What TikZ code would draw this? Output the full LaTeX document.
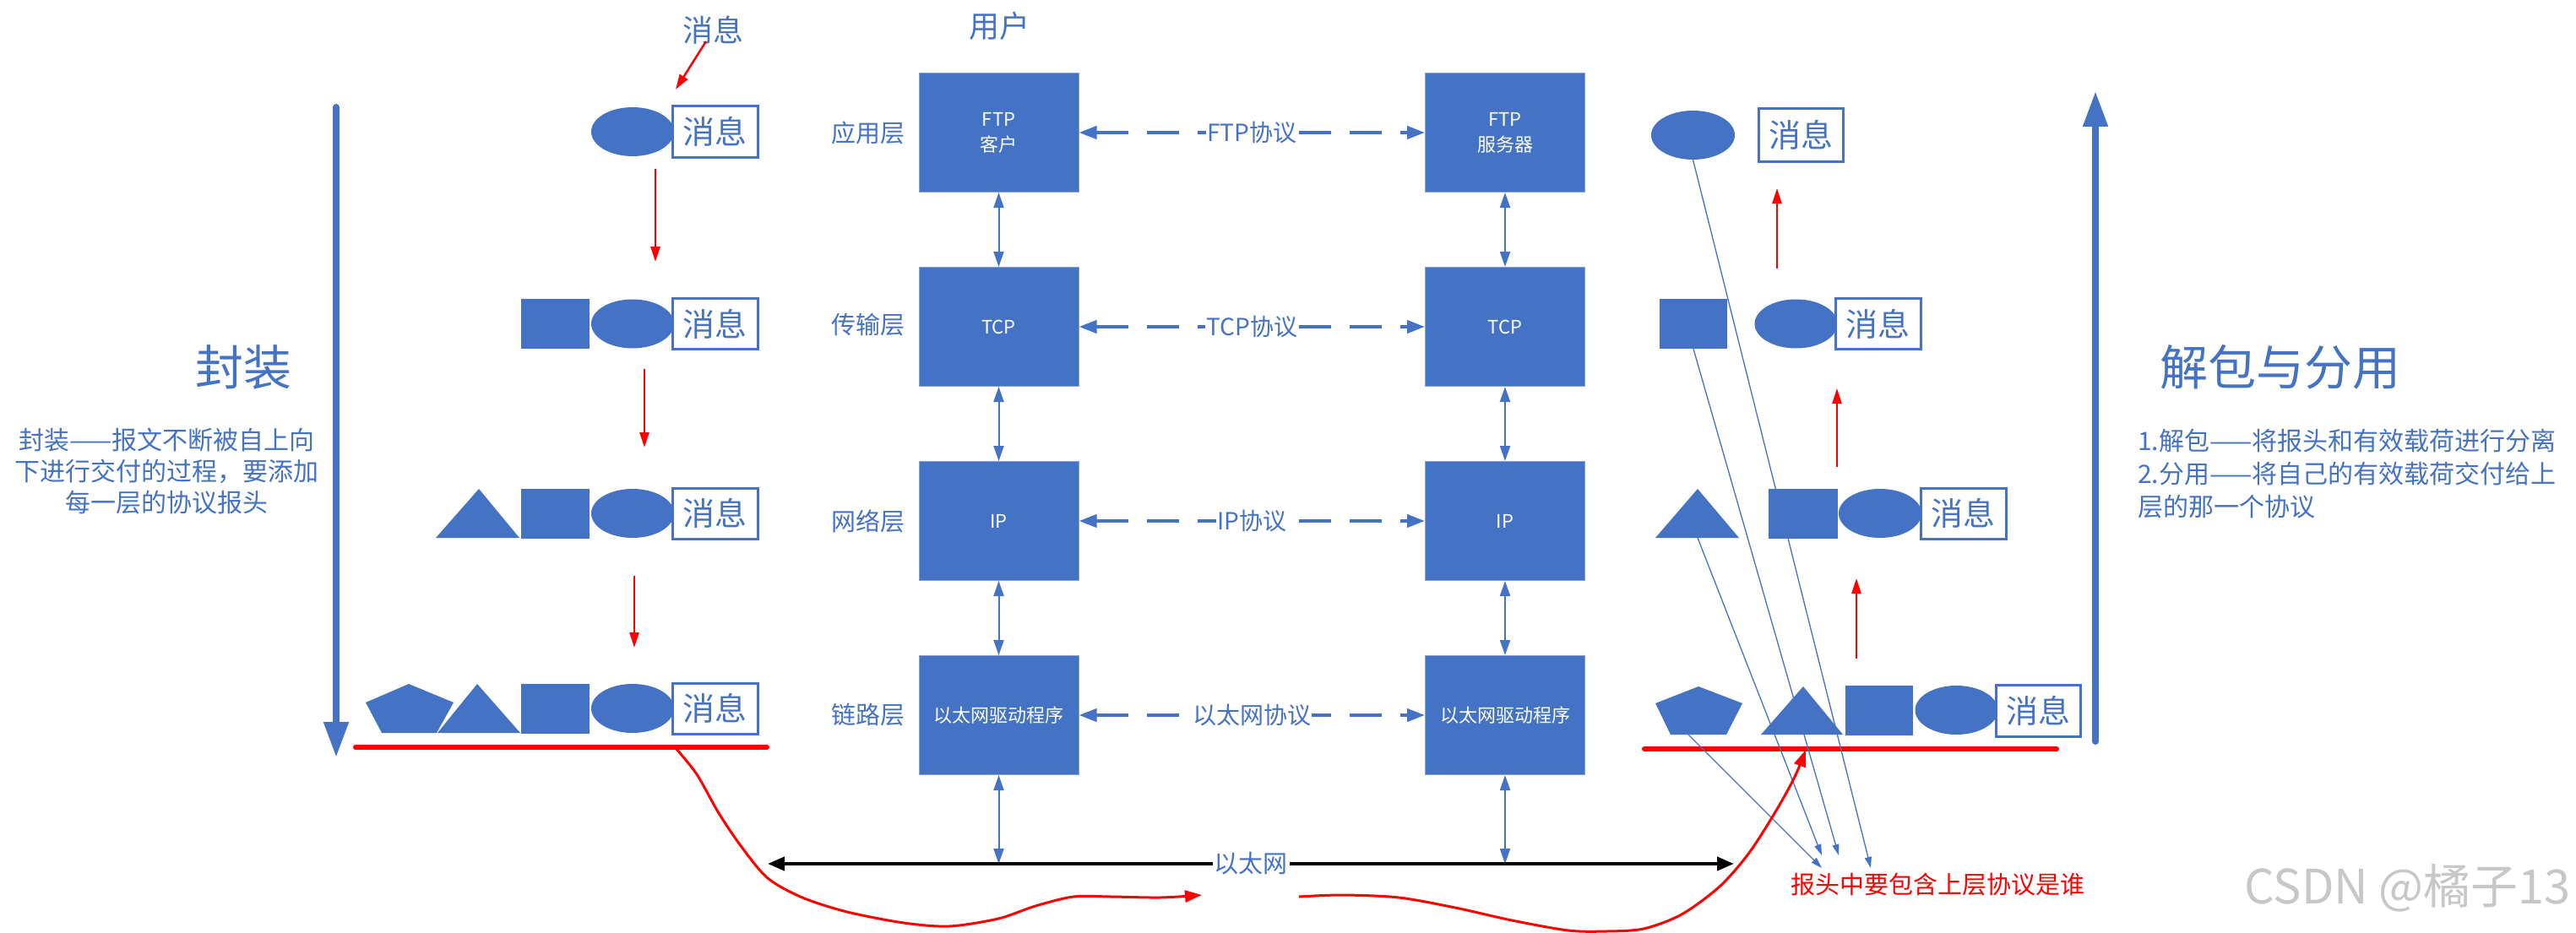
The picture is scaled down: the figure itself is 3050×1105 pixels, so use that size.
\documentclass[tikz,border=0pt]{standalone}
\usepackage{fontspec}
\setmainfont{Noto Sans CJK SC}
\usetikzlibrary{arrows.meta,shapes.geometric}
\definecolor{ob}{HTML}{4472C4}
\definecolor{rr}{HTML}{FF0000}
\newcommand{\fsz}[2]{\fontsize{#1}{#2}\selectfont}
\begin{document}
\begin{tikzpicture}[x=1pt,y=-1pt,
  lbox/.style={rectangle, fill=ob, draw=ob!65!white, line width=1pt, minimum width=189pt, minimum height=141pt, inner sep=0pt, text=white, font=\fsz{22}{30}, align=center},
  msg/.style={rectangle, draw=ob, line width=3pt, fill=white, minimum width=101pt, minimum height=60pt, inner sep=0pt, text=ob, font=\fsz{38}{40}},
  circ/.style={ellipse, fill=ob, minimum width=98pt, minimum height=58pt, inner sep=0pt},
  sqr/.style={rectangle, fill=ob, minimum width=81pt, minimum height=59pt, inner sep=0pt},
  lbl/.style={text=ob, font=\fsz{29}{34}, inner sep=0pt},
  proto/.style={text=ob, font=\fsz{28}{32}, fill=white, inner sep=1pt},
  dasharr/.style={draw=ob, line width=4pt, dash pattern=on 38pt off 22pt, {Triangle[length=21pt,width=15pt]}-{Triangle[length=21pt,width=15pt]}},
  varr/.style={draw=ob, line width=2pt, {Triangle[length=18pt,width=12pt]}-{Triangle[length=18pt,width=12pt]}},
  etharr/.style={draw=black, line width=4pt, {Triangle[length=20pt,width=16pt]}-{Triangle[length=20pt,width=16pt]}},
  bigarr/.style={draw=ob, line width=8pt, line cap=round, -{Triangle[length=42pt,width=28pt]}},
  thinarr/.style={draw=ob, line width=1.3pt, -{Triangle[length=13pt,width=8pt]}},
  rarr/.style={draw=rr, line width=2.5pt, -{Triangle[length=18pt,width=11pt]}},
  rline/.style={draw=rr, line width=6pt, line cap=round},
  rcurve/.style={draw=rr, line width=3pt},
  shp/.style={fill=ob}
]
\fill[white] (0,0) rectangle (3050,1105);
\useasboundingbox (0,0) rectangle (3050,1105);

% ---------- layer boxes ----------
\node[lbox] (c1) at (1182.5,157) {FTP\\客户};
\node[lbox] (s1) at (1782,157) {FTP\\服务器};
\node[lbox] (c2) at (1182.5,387) {TCP};
\node[lbox] (s2) at (1782,387) {TCP};
\node[lbox] (c3) at (1182.5,617) {IP};
\node[lbox] (s3) at (1782,617) {IP};
\node[lbox] (c4) at (1182.5,847) {以太网驱动程序};
\node[lbox] (s4) at (1782,847) {以太网驱动程序};

\node[lbl] (L1) at (1028,157) {应用层};
\node[lbl] (L2) at (1028,385) {传输层};
\node[lbl] (L3) at (1028,617) {网络层};
\node[lbl] (L4) at (1028,847) {链路层};
\node[text=ob, font=\fsz{36}{40}, inner sep=0pt] (user) at (1183,31) {用户};

\draw[dasharr] (c1.east) -- (s1.west) node[midway, proto] {FTP协议};
\draw[dasharr] (c2.east) -- (s2.west) node[midway, proto] {TCP协议};
\draw[dasharr] (c3.east) -- (s3.west) node[midway, proto] {IP协议};
\draw[dasharr] (c4.east) -- (s4.west) node[midway, proto] {以太网协议};

\draw[varr] (c1.south) -- (c2.north);
\draw[varr] (c2.south) -- (c3.north);
\draw[varr] (c3.south) -- (c4.north);
\draw[varr] (s1.south) -- (s2.north);
\draw[varr] (s2.south) -- (s3.north);
\draw[varr] (s3.south) -- (s4.north);

\coordinate (ethL) at (909,1023);
\coordinate (ethR) at (2053,1023);
\draw[varr] (c4.south) -- (c4.south |- ethL);
\draw[varr] (s4.south) -- (s4.south |- ethL);
\draw[etharr] (ethL) -- (ethR) node[pos=0.5, fill=white, text=ob, font=\fsz{29}{32}, inner sep=2pt] (eth) {以太网};

% ---------- left: encapsulation ----------
\draw[bigarr] (398,127) -- (398,897);
\node[text=ob, font=\fsz{57}{60}, inner sep=0pt] (enc) at (288,435) {封装};
\node[text=ob, font=\fsz{30}{37}, align=center, inner sep=0pt] (encd) at (197.5,558) {封装——报文不断被自上向\\下进行交付的过程，要添加\\每一层的协议报头};

\node[text=ob, font=\fsz{36}{40}, inner sep=0pt] (topmsg) at (844,36) {消息};

\node[circ] (a1c) at (749,156) {};
\node[msg] (a1m) at (846.5,156) {消息};

\node[sqr] (a2s) at (657.5,383.5) {};
\node[circ] (a2c) at (749,383.5) {};
\node[msg] (a2m) at (846.5,383.5) {消息};

\fill[shp] (516,637) -- (567,579) -- (615,637) -- cycle;
\node[sqr] (a3s) at (657.5,608) {};
\node[circ] (a3c) at (749,608) {};
\node[msg] (a3m) at (846.5,608) {消息};

\fill[shp] (484,810) -- (537,832) -- (517,868) -- (452,868) -- (433,832) -- cycle;
\fill[shp] (518,868) -- (565,810) -- (616,868) -- cycle;
\node[sqr] (a4s) at (657,839) {};
\node[circ] (a4c) at (749,839) {};
\node[msg] (a4m) at (846.5,839) {消息};

\coordinate (tA) at (800,106);
\draw[rarr] ([xshift=-8pt,yshift=4pt]topmsg.south) -- (tA);
\coordinate (d1a) at (776,200); \coordinate (d1b) at (776,310);
\coordinate (d2a) at (763,437); \coordinate (d2b) at (763,530);
\coordinate (d3a) at (751,682); \coordinate (d3b) at (751,767);
\draw[rarr] (d1a) -- (d1b);
\draw[rarr] (d2a) -- (d2b);
\draw[rarr] (d3a) -- (d3b);

\coordinate (rlL1) at (421,885); \coordinate (rlL2) at (908,885);
\draw[rline] (rlL1) -- (rlL2);

% ---------- right: decapsulation ----------
\draw[bigarr] (2481,878) -- (2481,108);
\node[text=ob, font=\fsz{57}{60}, inner sep=0pt] (dec) at (2700,435) {解包与分用};
\node[text=ob, font=\fsz{30}{39}, align=left, anchor=west, inner sep=0pt] (decd) at (2531,561) {1.解包——将报头和有效载荷进行分离\\2.分用——将自己的有效载荷交付给上\\层的那一个协议};

\node[circ, minimum width=99pt] (b1c) at (2004.5,160) {};
\node[msg, minimum height=62pt, minimum width=100pt] (b1m) at (2132,160) {消息};

\node[sqr, minimum width=80pt] (b2s) at (2005,383.5) {};
\node[circ] (b2c) at (2126.5,383.5) {};
\node[msg] (b2m) at (2223.5,383.5) {消息};

\fill[shp] (1960,637) -- (2010,579) -- (2059,637) -- cycle;
\coordinate (b3t) at (2010,637);
\node[sqr, minimum width=82pt] (b3s) at (2135,608) {};
\node[circ] (b3c) at (2226,608) {};
\node[msg] (b3m) at (2324.5,608) {消息};

\fill[shp] (2011,813) -- (2063,833) -- (2044,870) -- (1978,870) -- (1960,833) -- cycle;
\coordinate (b4p) at (1999,870);
\fill[shp] (2085,870) -- (2135,813) -- (2182,870) -- cycle;
\node[sqr, minimum width=80pt] (b4s) at (2225,841) {};
\node[circ] (b4c) at (2316.5,841) {};
\node[msg, minimum height=61pt, minimum width=100pt] (b4m) at (2413,841.5) {消息};

\coordinate (u1a) at (2104,318); \coordinate (u1b) at (2104,223);
\coordinate (u2a) at (2175,553); \coordinate (u2b) at (2175,460);
\coordinate (u3a) at (2198,780); \coordinate (u3b) at (2198,685);
\draw[rarr] (u1a) -- (u1b);
\draw[rarr] (u2a) -- (u2b);
\draw[rarr] (u3a) -- (u3b);

\coordinate (rlR1) at (1947,887); \coordinate (rlR2) at (2435,887);
\draw[rline] (rlR1) -- (rlR2);

\node[text=rr, font=\fsz{29}{32}, inner sep=0pt] (note) at (2294,1048) {报头中要包含上层协议是谁};

\coordinate (t1) at (2215,1028);
\coordinate (t2) at (2177,1013);
\coordinate (t3) at (2157,1013);
\coordinate (t4) at (2157,1028);
\draw[thinarr] (b1c.south) -- (t1);
\draw[thinarr] (b2s.south) -- (t2);
\draw[thinarr] (b3t) -- (t3);
\draw[thinarr] (b4p) -- (t4);

% ---------- red transmission curves ----------
\draw[rcurve, -{Triangle[length=20pt,width=14pt]}] plot[smooth, tension=0.5] coordinates {(800,886) (825,917) (851,963) (878,1003) (909,1040) (950,1063) (1003,1080) (1070,1093) (1124,1097) (1182,1088) (1226,1073) (1271,1062) (1316,1062) (1374,1063) (1423,1060)};
\draw[rcurve, -{Triangle[length=20pt,width=14pt]}] plot[smooth, tension=0.5] coordinates {(1538,1062) (1589,1060) (1656,1063) (1723,1075) (1790,1090) (1857,1102) (1902,1103) (1946,1100) (1991,1083) (2036,1050) (2071,1010) (2103,960) (2125,920) (2138,888)};

% ---------- watermark ----------
\node[text=black!22, font=\fsz{56}{60}, anchor=east, inner sep=0pt] (wm) at (3044,1052) {CSDN @橘子13};
\end{tikzpicture}
\end{document}
